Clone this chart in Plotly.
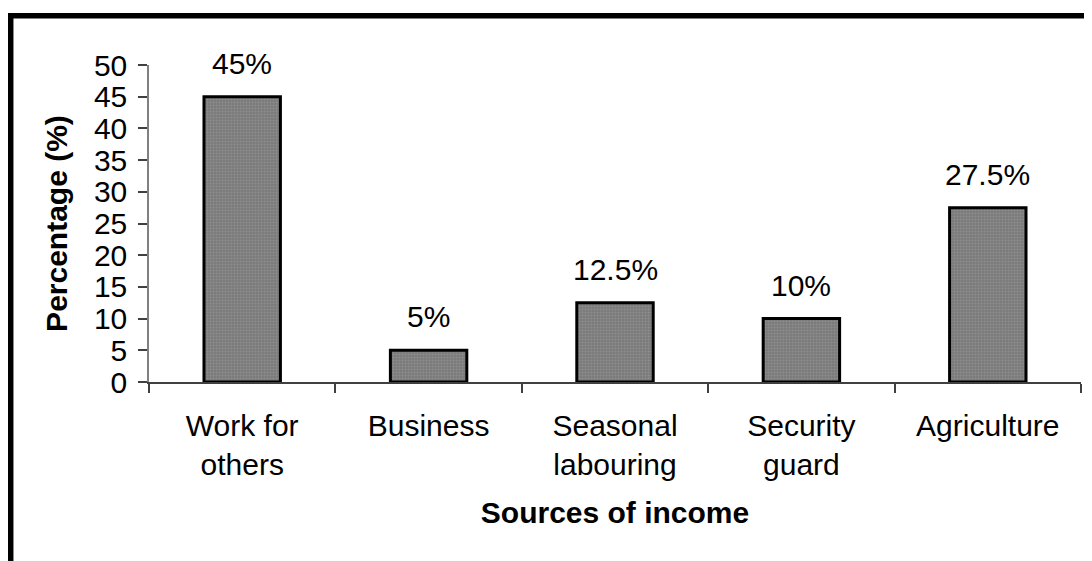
import plotly.graph_objects as go

categories = ["Work for<br>others", "Business", "Seasonal<br>labouring", "Security<br>guard", "Agriculture"]
values = [45, 5, 12.5, 10, 27.5]
labels = ["45%", "5%", "12.5%", "10%", "27.5%"]
y_ticks = list(range(0, 55, 5))

W, H = 1092, 561
OFF = 8  # page body margin
# plot area in screen pixels: x 149..1081, y 65..382
L, T = 149 - OFF, 65 - OFF
R = W - (1081 - OFF)
B = H - (382 - OFF)
FONT = "Liberation Sans, Arial, sans-serif"

def px_x(px):
    return (px - OFF - L) / (W - L - R)

def px_y(py):
    return (H - B - (py - OFF)) / (H - T - B)

fig = go.Figure()
fig.add_trace(go.Bar(
    x=categories, y=values,
    marker=dict(
        color="#8a8a8a",
        line=dict(color="#000000", width=3),
        pattern=dict(shape=".", bgcolor="#7a7a7a", fgcolor="#a3a3a3", size=3, solidity=0.35),
    ),
    hoverinfo="skip",
))

for c, v, t in zip(categories, values, labels):
    fig.add_annotation(x=c, y=v, text=t, showarrow=False, yanchor="bottom",
                       yshift=15, font=dict(family=FONT, size=30, color="#000"))

# outer frame (thick black border, partly outside the page)
fig.add_shape(type="rect", xref="paper", yref="paper",
              x0=px_x(10.7), x1=px_x(W + 60), y0=px_y(15.7), y1=px_y(H + 60),
              line=dict(color="#000", width=5.5), fillcolor="rgba(0,0,0,0)", layer="above")

fig.update_layout(
    width=W, height=H,
    margin=dict(l=L, r=R, t=T, b=B, pad=0, autoexpand=False),
    paper_bgcolor="white", plot_bgcolor="white",
    bargap=0.59, showlegend=False,
    font=dict(family=FONT, size=30, color="#000"),
    xaxis=dict(
        showline=True, linecolor="#404040", linewidth=1.5,
        ticks="outside", ticklen=9, tickcolor="#404040", tickwidth=1.5,
        tickson="boundaries", showgrid=False, ticklabelstandoff=16,
        tickfont=dict(family=FONT, size=30, color="#000"),
        title=dict(text="<b>Sources of income</b>", font=dict(family=FONT, size=30), standoff=22),
    ),
    yaxis=dict(
        range=[0, 50], tickvals=y_ticks, showline=True, linecolor="#808080", linewidth=1.5,
        ticks="outside", ticklen=9, tickcolor="#404040", tickwidth=1.5,
        showgrid=False, zeroline=False, ticklabelstandoff=5,
        tickfont=dict(family=FONT, size=30, color="#000"),
        title=dict(text="<b>Percentage (%)</b>", font=dict(family=FONT, size=30), standoff=17),
    ),
)

fig.write_html("out.html")
